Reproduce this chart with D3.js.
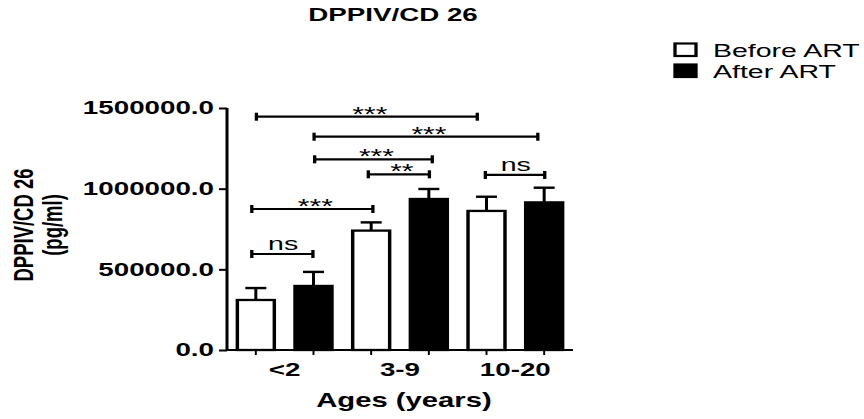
<!DOCTYPE html>
<html><head><meta charset="utf-8">
<script src="https://cdn.jsdelivr.net/npm/d3@7"></script>
<style>html,body{margin:0;padding:0;background:#fff}svg{display:block}</style>
</head><body>
<script>
// ---- data ----
const categories = ["<2", "3-9", "10-20"];
const series = ["Before ART", "After ART"];
const beforeART = [310000, 740000, 862000];
const afterART = [397000, 936000, 915000];
const beforeErr = [74000, 51000, 88000];
const afterErr = [87000, 62000, 91000];
const yTicks = [0, 500000, 1000000, 1500000];
// significance brackets: from/to in bar-index units, level in pg/ml
const sigLabels = ["***", "***", "***", "**", "ns", "***", "ns"];
const sigFrom = [0.01, 1.01, 1.02, 1.95, 3.98, -0.07, -0.07];
const sigTo = [3.84, 4.89, 3.06, 3.01, 5.01, 2.03, 0.99];
const sigLevel = [1446000, 1322000, 1182000, 1089000, 1085000, 874000, 595000];

// ---- layout (picture is horizontally stretched) ----
const W = 864, H = 419, SX = 1.5;
const FONT = "'Liberation Sans', Arial, sans-serif";
const svg = d3.select("body").append("svg").attr("width", W).attr("height", H);
const g = svg.append("g").attr("transform", `scale(${SX},1)`);
const ux = v => v / SX; // real px -> unscaled

const x0 = d3.scaleBand().domain(categories).range([ux(227), ux(573)]).padding(0);
const x1 = d3.scaleBand().domain(series).range([0, x0.bandwidth()]).paddingInner(0.307).paddingOuter(0.1535);
const y = d3.scaleLinear().domain([0, 1500000]).range([350, 108]);

const rows = categories.map((c, i) => ({ c, vals: [
  { s: series[0], v: beforeART[i], e: beforeErr[i] },
  { s: series[1], v: afterART[i], e: afterErr[i] }] }));
const barCenters = [];
rows.forEach(r => r.vals.forEach(d => barCenters.push(x0(r.c) + x1(d.s) + x1.bandwidth() / 2)));
const barPos = d3.scaleLinear().domain([0, 5]).range([barCenters[0], barCenters[5]]);

// title
g.append("text").attr("x", ux(393)).attr("y", 21).attr("text-anchor", "middle")
  .attr("font-family", FONT).attr("font-weight", "bold").attr("font-size", 18.5).text("DPPIV/CD 26");

// bars
const grp = g.selectAll(".grp").data(rows).enter().append("g").attr("transform", d => `translate(${x0(d.c)},0)`);
grp.selectAll(".err").data(d => d.vals).enter().append("g").each(function (d) {
  const cx = x1(d.s) + x1.bandwidth() / 2;
  const s = d3.select(this);
  s.append("line").attr("x1", cx).attr("x2", cx).attr("y1", y(d.v)).attr("y2", y(d.v + d.e))
    .attr("stroke", "#000").attr("stroke-width", 2);
  s.append("line").attr("x1", cx - ux(10.5)).attr("x2", cx + ux(10.5)).attr("y1", y(d.v + d.e)).attr("y2", y(d.v + d.e))
    .attr("stroke", "#000").attr("stroke-width", 2.4);
});
grp.selectAll("rect").data(d => d.vals).enter().append("rect")
  .attr("x", d => x1(d.s) + 1).attr("width", x1.bandwidth() - 2)
  .attr("y", d => y(d.v)).attr("height", d => y(0) - y(d.v))
  .attr("fill", d => d.s === series[0] ? "#fff" : "#000")
  .attr("stroke", "#000").attr("stroke-width", 2.3);

// axes
const yAxis = g.append("g").attr("transform", `translate(${ux(227)},0)`)
  .call(d3.axisLeft(y).tickValues(yTicks).tickFormat(d3.format(".1f")).tickSize(ux(8)).tickPadding(ux(5)));
yAxis.select(".domain").attr("d", `M0,${y(1500000)}V${y(0)}`).attr("stroke-width", 2);
yAxis.selectAll(".tick line").attr("stroke-width", 2);
yAxis.selectAll("text").attr("font-family", FONT).attr("font-weight", "bold").attr("font-size", 18.5).attr("fill", "#000");

g.append("line").attr("x1", ux(226)).attr("x2", ux(573)).attr("y1", y(0)).attr("y2", y(0))
  .attr("stroke", "#000").attr("stroke-width", 2);
g.selectAll(".xt").data(barCenters).enter().append("line")
  .attr("x1", d => d).attr("x2", d => d).attr("y1", y(0)).attr("y2", y(0) + 5)
  .attr("stroke", "#000").attr("stroke-width", 1.3);
g.selectAll(".xl").data(categories).enter().append("text")
  .attr("x", d => x0(d) + x0.bandwidth() / 2).attr("y", 376).attr("text-anchor", "middle")
  .attr("font-family", FONT).attr("font-weight", "bold").attr("font-size", 18.5).text(d => d);

g.append("text").attr("x", ux(404)).attr("y", 407).attr("text-anchor", "middle")
  .attr("font-family", FONT).attr("font-weight", "bold").attr("font-size", 19.5).text("Ages (years)");

// y label
const yl = g.append("g").attr("transform", `translate(${ux(33)},225) rotate(-90)`);
yl.append("text").attr("x", 0).attr("y", 0).attr("text-anchor", "middle")
  .attr("font-family", FONT).attr("font-weight", "bold").attr("font-size", 18.5).text("DPPIV/CD 26");
yl.append("text").attr("x", 0).attr("y", 19.5).attr("text-anchor", "middle")
  .attr("font-family", FONT).attr("font-weight", "bold").attr("font-size", 18.5).text("(pg/ml)");

// significance brackets
sigLabels.forEach((lab, i) => {
  const a = barPos(sigFrom[i]), b = barPos(sigTo[i]), yy = y(sigLevel[i]);
  const s = g.append("g");
  s.append("line").attr("x1", a).attr("x2", b).attr("y1", yy).attr("y2", yy).attr("stroke", "#000").attr("stroke-width", 2.2);
  [a, b].forEach(px => s.append("line").attr("x1", px).attr("x2", px).attr("y1", yy - 4).attr("y2", yy + 4)
    .attr("stroke", "#000").attr("stroke-width", 2.2));
  const isNs = lab === "ns";
  s.append("text").attr("x", (a + b) / 2 + (isNs ? 0.5 : ux(3))).attr("y", isNs ? yy - 4 : yy + 4)
    .attr("text-anchor", "middle").attr("font-family", FONT)
    .attr("font-size", isNs ? 19 : 20).text(lab);
});

// legend
const leg = g.append("g");
series.forEach((s, i) => {
  leg.append("rect").attr("x", ux(675)).attr("y", 43.5 + i * 21).attr("width", ux(21)).attr("height", 12.5)
    .attr("fill", i === 0 ? "#fff" : "#000").attr("stroke", "#000").attr("stroke-width", 2.2);
  leg.append("text").attr("x", ux(713)).attr("y", 57 + i * 21.5)
    .attr("font-family", FONT).attr("font-size", 19).text(s);
});
</script>
</body></html>
